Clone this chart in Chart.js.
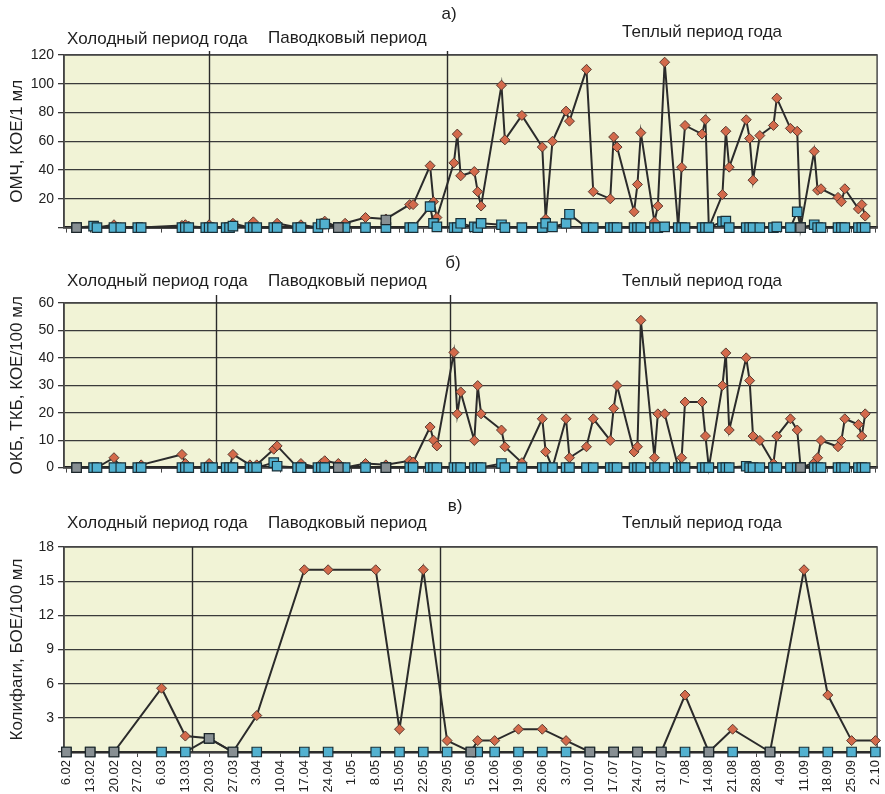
<!DOCTYPE html>
<html>
<head>
<meta charset="utf-8">
<script src="https://cdn.jsdelivr.net/npm/chart.js@4.4.1/dist/chart.umd.min.js"></script>
<style>
  html, body { margin: 0; padding: 0; background: #fff; overflow: hidden; }
  #wrap { position: relative; width: 885px; height: 794px; overflow: hidden; }
  canvas { position: absolute; left: 0; }
</style>
</head>
<body>
<div id="wrap">
  <canvas id="chartA" width="885" height="240" style="top:0"></canvas>
  <canvas id="chartB" width="885" height="240" style="top:240px"></canvas>
  <canvas id="chartC" width="885" height="340" style="top:480px"></canvas>
</div>
<script>
// weekly tick labels on the date axis
const weekTicks = ['6.02','13.02','20.02','27.02','6.03','13.03','20.03','27.03','3.04','10.04',
  '17.04','24.04','1.05','8.05','15.05','22.05','29.05','5.06','12.06','19.06','26.06','3.07',
  '10.07','17.07','24.07','31.07','7.08','14.08','21.08','28.08','4.09','11.09','18.09','25.09','2.10'];

const periodNames = ['Холодный период года', 'Паводковый период', 'Теплый период года'];

// sampling dates for panels a) and b)
const sampleDates = ['9.02','14.02','15.02','20.02','22.02','27.02','28.02','12.03','13.03','14.03',
  '19.03','20.03','21.03','25.03','26.03','27.03','1.04','2.04','3.04','8.04',
  '9.04','15.04','16.04','21.04','22.04','23.04','27.04','29.04','5.05','11.05',
  '18.05','19.05','24.05','25.05','26.05','31.05','1.06','2.06','6.06','7.06',
  '8.06','14.06','15.06','20.06','26.06','27.06','29.06','3.07','4.07','9.07',
  '11.07','16.07','17.07','18.07','23.07','24.07','25.07','29.07','30.07','1.08',
  '5.08','6.08','7.08','12.08','13.08','14.08','18.08','19.08','20.08','25.08',
  '26.08','27.08','29.08','2.09','3.09','7.09','9.09','10.09','14.09','15.09',
  '16.09','21.09','22.09','23.09','27.09','28.09','29.09'];
const extraDates = ['9.02','27.04','11.05','10.09'];

// a) ОМЧ
const omchRiver = [0,0.5,0,2,0,0,0,1.5,2,1,
  0,2,0,0,0,3,0,4,0,0,
  3,0,2,0,3,4.5,0,3,7,6,
  16,16,43,18,7,45,65,36,39,25,
  15,99,61,78,56,6,60,81,74,110,
  25,20,63,56,11,30,66,4,15,115,
  0,42,71,65,75,0,23,67,42,75,
  62,33,64,71,90,69,67,0,53,26,
  27,21,18,27,13,16,8];
const omchTreated = [0,1,0,0,0,0,0,0,0,0,
  0,0,0,0,0,1,0,0,0,0,
  0,0,0,0,2.5,2.5,0,0,0,0,
  0,0,14.6,3,0.5,0,0,3,0.5,0,
  3,2,0,0,0,3,0.5,3,9.3,0,
  0,0,0,0,0,0,0,0,0,0.5,
  0,0,0,0,0,0,4.2,4.5,0,0,
  0,0,0,0,0.5,0,11,0,2,0,
  0,0,0,0,0,0,0];
const omchExtra = [0,0,5.3,0];

// б) ОКБ, ТКБ
const okbRiver = [0,0,0,3.6,0,0,1,4.8,1.5,0,
  0,1.5,0,0,0,4.8,1,0,1,6.7,
  7.9,0,1.5,0,1.5,2.5,1.5,0,1.5,1,
  2.5,2,14.8,10,7.9,42,19.6,27.6,9.9,29.9,
  19.6,13.7,7.6,1.8,17.8,5.8,0,17.8,3.6,7.6,
  17.8,9.9,21.6,29.9,5.7,7.6,53.7,3.6,19.6,19.6,
  0,3.6,23.9,23.9,11.5,0,29.9,41.8,13.7,40,
  31.7,11.5,9.9,1.5,11.5,17.8,13.7,0,1.8,3.6,
  9.9,7.6,9.9,17.8,15.7,11.5,19.6];
const okbTreated = [0,0,0,0,0,0,0,0,0,0,
  0,0,0,0,0,0,0,0,0,1.8,
  0.5,0,0,0,0,0,0,0,0,0,
  0,0,0,0,0,0,0,0,0,0,
  0,1.5,0,0,0,0,0,0,0,0,
  0,0,0,0,0,0,0,0,0,0,
  0,0,0,0,0,0,0,0,0,0.5,
  0,0,0,0,0,0,0,0,0,0,
  0,0,0,0,0,0,0];
const okbExtra = [0,0,0,0];

// в) Колифаги
const phageDates = ['6.02','13.02','20.02','6.03','13.03','20.03','27.03','3.04','17.04','24.04',
  '8.05','15.05','22.05','29.05','5.06','7.06','12.06','19.06','26.06','3.07',
  '10.07','17.07','24.07','31.07','7.08','14.08','21.08','1.09','11.09','18.09','25.09','2.10'];
const phageRiver = [0,0,0,5.6,1.4,1.2,0,3.2,16,16,
  16,2,16,1,0,1,1,2,2,1,
  0,0,0,0,5,0,2,0,16,5,1,1];
const phageTreated = [0,0,0,0,0,1.2,0,0,0,0,
  0,0,0,0,0,0,0,0,0,0,
  0,0,0,0,0,0,0,0,0,0,0,0];
const phageExtraDates = ['6.02','13.02','20.02','20.03','27.03','5.06','10.07','17.07','24.07','31.07','14.08','1.09'];
const phageExtra = [0,0,0,1.2,0,0,0,0,0,0,0,0];

// period boundaries drawn in each panel
const boundsA = ['20.03', '29.05'];
const boundsB = ['22.03', '30.05'];
const boundsC = ['15.03', '27.05'];

const monthStart = [0,31,59,90,120,151,181,212,243,273,304,334];
function dayOf(s) {
  const p = s.split('.').map(Number);
  return monthStart[p[1] - 1] + p[0];
}
function series(dates, vals) {
  return dates.map((d, i) => ({ x: dayOf(d), y: vals[i] }));
}

Chart.defaults.font.family = '"Liberation Sans", Arial, sans-serif';
Chart.defaults.color = '#222';

const panelDecor = {
  id: 'panelDecor',
  beforeDraw(chart) {
    const { ctx, chartArea: a } = chart;
    ctx.save();
    ctx.fillStyle = '#f1f3d6';
    ctx.fillRect(a.left, a.top, a.right - a.left, a.bottom - a.top);
    ctx.restore();
  },
  beforeDatasetsDraw(chart, args, o) {
    const { ctx, chartArea: a } = chart;
    const x = chart.scales.x;
    ctx.save();
    ctx.strokeStyle = '#4a4a4a';
    ctx.lineWidth = 1.5;
    ctx.strokeRect(a.left, a.top, a.right - a.left, a.bottom - a.top);
    ctx.strokeStyle = '#2a2a2a';
    ctx.lineWidth = 1.4;
    o.bounds.forEach(d => {
      const px = Math.round(x.getPixelForValue(dayOf(d))) + 0.5;
      ctx.beginPath();
      ctx.moveTo(px, a.top - o.rise);
      ctx.lineTo(px, a.bottom);
      ctx.stroke();
    });
    ctx.restore();
  },
  afterDraw(chart, args, o) {
    const ctx = chart.ctx;
    ctx.save();
    ctx.fillStyle = '#1e1e1e';
    ctx.font = '17px "Liberation Sans", Arial, sans-serif';
    ctx.textBaseline = 'alphabetic';
    ctx.textAlign = 'center';
    ctx.fillText(o.title, o.titleX, o.titleY);
    ctx.textAlign = 'left';
    const xs = [67, 268, 622];
    periodNames.forEach((t, i) => ctx.fillText(t, xs[i], o.periodY[i]));
    ctx.restore();
  }
};

function makePanel(id, p) {
  return new Chart(document.getElementById(id), {
    type: 'line',
    data: {
      datasets: [
        { data: series(p.extraDates, p.extra), showLine: false, pointStyle: 'rect', pointRadius: 6.7,
          pointBackgroundColor: '#878f93', pointBorderColor: '#1d262a', pointBorderWidth: 1.2, clip: false },
        { data: series(p.dates, p.treated), borderColor: '#2b2b2b', borderWidth: 2, pointStyle: 'rect',
          pointRadius: 6.7, pointBackgroundColor: '#52b1d0', pointBorderColor: '#1a3038', pointBorderWidth: 1.2,
          clip: false },
        { data: series(p.dates, p.river), borderColor: '#2b2b2b', borderWidth: 2, pointStyle: 'rectRot',
          pointRadius: 5, pointBackgroundColor: '#d36a4b', pointBorderColor: '#5a3b31', pointBorderWidth: 1,
          clip: false }
      ]
    },
    options: {
      responsive: false,
      animation: false,
      events: [],
      layout: { padding: { top: p.top, right: 6, left: 0, bottom: 0 } },
      elements: { line: { tension: 0 } },
      plugins: {
        legend: { display: false },
        tooltip: { enabled: false },
        panelDecor: { bounds: p.bounds, rise: p.rise, title: p.title, titleX: p.titleX, titleY: p.titleY, periodY: p.periodY }
      },
      scales: {
        x: {
          type: 'linear',
          min: 36.3,
          max: 275.5,
          afterBuildTicks: s => { s.ticks = weekTicks.map(t => ({ value: dayOf(t) })); },
          afterFit: s => { s.height = p.xHeight; s.paddingLeft = 0; s.paddingRight = 0; },
          ticks: {
            display: p.showLabels,
            autoSkip: false,
            minRotation: 90,
            maxRotation: 90,
            padding: 3,
            font: { size: 13 },
            callback: (v, i) => weekTicks[i]
          },
          grid: { drawOnChartArea: false, drawTicks: true, tickLength: 5, color: '#444' },
          border: { display: true, color: '#1a1a1a', width: 2.5 }
        },
        y: {
          min: 0,
          max: p.max,
          afterFit: s => { s.width = 64; },
          ticks: {
            stepSize: p.step,
            padding: 4,
            font: { size: 14 },
            callback: v => (p.hideZero && v === 0) ? '' : v
          },
          grid: { color: '#3a3a3a', lineWidth: 1.3, tickLength: 6 },
          border: { display: true, color: '#333', width: 1.5 },
          title: { display: true, text: p.yTitle, font: { size: 17 }, color: '#1e1e1e', padding: { top: 7, bottom: 0 } }
        }
      }
    },
    plugins: [panelDecor]
  });
}

makePanel('chartA', {
  dates: sampleDates, river: omchRiver, treated: omchTreated, extraDates: extraDates, extra: omchExtra,
  max: 120, step: 20, hideZero: true, yTitle: 'ОМЧ, КОЕ/1 мл', top: 55, xHeight: 12, showLabels: false,
  bounds: boundsA, rise: 4, title: 'а)', titleX: 449, titleY: 19, periodY: [44, 43, 37]
});
makePanel('chartB', {
  dates: sampleDates, river: okbRiver, treated: okbTreated, extraDates: extraDates, extra: okbExtra,
  max: 60, step: 10, hideZero: false, yTitle: 'ОКБ, ТКБ, КОЕ/100 мл', top: 63, xHeight: 12, showLabels: false,
  bounds: boundsB, rise: 8, title: 'б)', titleX: 453, titleY: 28, periodY: [46, 46, 46]
});
makePanel('chartC', {
  dates: phageDates, river: phageRiver, treated: phageTreated, extraDates: phageExtraDates, extra: phageExtra,
  max: 18, step: 3, hideZero: true, yTitle: 'Колифаги, БОЕ/100 мл', top: 67, xHeight: 68, showLabels: true,
  bounds: boundsC, rise: 0, title: 'в)', titleX: 455, titleY: 31, periodY: [48, 48, 48]
});
</script>
</body>
</html>
